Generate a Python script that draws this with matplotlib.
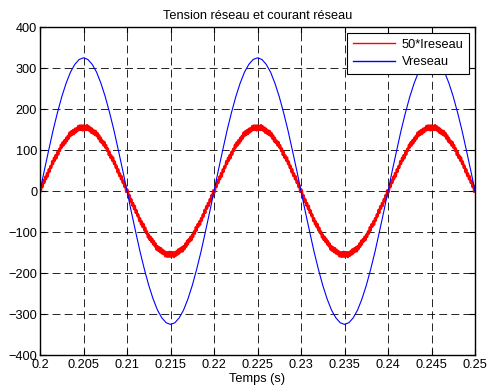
import numpy as np
import matplotlib
matplotlib.use("Agg")
import matplotlib.pyplot as plt

plt.rcParams['font.family'] = ['Liberation Sans', 'DejaVu Sans']

# Vreseau, sampled every 0.0005 s from 0.2 to 0.25 s
t_v = np.linspace(0.2, 0.25, 101)
vreseau = [
    0, 51, 100, 148, 191, 230, 263, 290, 309, 321, 325, 321, 309, 290, 263, 230, 191, 148, 100, 51,
    0, -51, -100, -148, -191, -230, -263, -290, -309, -321, -325, -321, -309, -290, -263, -230, -191, -148, -100, -51,
    0, 51, 100, 148, 191, 230, 263, 290, 309, 321, 325, 321, 309, 290, 263, 230, 191, 148, 100, 51,
    0, -51, -100, -148, -191, -230, -263, -290, -309, -321, -325, -321, -309, -290, -263, -230, -191, -148, -100, -51,
    0, 51, 100, 148, 191, 230, 263, 290, 309, 321, 325, 321, 309, 290, 263, 230, 191, 148, 100, 51,
    0,
]

# 50*Ireseau (with switching ripple), sampled every 0.0001 s
t_i = np.linspace(0.2, 0.25, 501)
ireseau50 = [
    0,
    -1, 14, 10, 26, 20, 35, 29, 44, 36, 53, 47, 61, 57, 73, 66, 81, 74, 88, 80, 96,
    89, 103, 98, 113, 106, 119, 111, 124, 116, 130, 122, 135, 128, 143, 134, 146, 137, 149, 139, 152,
    143, 154, 146, 159, 149, 160, 149, 160, 148, 160, 149, 159, 149, 161, 149, 158, 146, 155, 142, 152,
    140, 148, 137, 147, 134, 142, 128, 136, 121, 130, 117, 123, 111, 120, 106, 112, 98, 104, 88, 96,
    81, 87, 74, 82, 66, 72, 57, 62, 46, 53, 37, 43, 29, 36, 20, 25, 10, 15, -2, 5,
    1, -14, -10, -26, -20, -35, -29, -44, -36, -53, -47, -61, -57, -73, -66, -81, -74, -88, -80, -96,
    -89, -103, -98, -113, -106, -119, -111, -124, -116, -130, -122, -135, -128, -143, -134, -146, -137, -149, -139, -152,
    -143, -154, -146, -159, -149, -160, -149, -160, -148, -160, -149, -159, -149, -161, -149, -158, -146, -155, -142, -152,
    -140, -148, -137, -147, -134, -142, -128, -136, -121, -130, -117, -123, -111, -120, -106, -112, -98, -104, -88, -96,
    -81, -87, -74, -82, -66, -72, -57, -62, -46, -53, -37, -43, -29, -36, -20, -25, -10, -15, 2, -5,
    -1, 14, 10, 26, 20, 35, 29, 44, 36, 53, 47, 61, 57, 73, 66, 81, 74, 88, 80, 96,
    89, 103, 98, 113, 106, 119, 111, 124, 116, 130, 122, 135, 128, 143, 134, 146, 137, 149, 139, 152,
    143, 154, 146, 159, 149, 160, 149, 160, 148, 160, 149, 159, 149, 161, 149, 158, 146, 155, 142, 152,
    140, 148, 137, 147, 134, 142, 128, 136, 121, 130, 117, 123, 111, 120, 106, 112, 98, 104, 88, 96,
    81, 87, 74, 82, 66, 72, 57, 62, 46, 53, 37, 43, 29, 36, 20, 25, 10, 15, -2, 5,
    1, -14, -10, -26, -20, -35, -29, -44, -36, -53, -47, -61, -57, -73, -66, -81, -74, -88, -80, -96,
    -89, -103, -98, -113, -106, -119, -111, -124, -116, -130, -122, -135, -128, -143, -134, -146, -137, -149, -139, -152,
    -143, -154, -146, -159, -149, -160, -149, -160, -148, -160, -149, -159, -149, -161, -149, -158, -146, -155, -142, -152,
    -140, -148, -137, -147, -134, -142, -128, -136, -121, -130, -117, -123, -111, -120, -106, -112, -98, -104, -88, -96,
    -81, -87, -74, -82, -66, -72, -57, -62, -46, -53, -37, -43, -29, -36, -20, -25, -10, -15, 2, -5,
    -1, 14, 10, 26, 20, 35, 29, 44, 36, 53, 47, 61, 57, 73, 66, 81, 74, 88, 80, 96,
    89, 103, 98, 113, 106, 119, 111, 124, 116, 130, 122, 135, 128, 143, 134, 146, 137, 149, 139, 152,
    143, 154, 146, 159, 149, 160, 149, 160, 148, 160, 149, 159, 149, 161, 149, 158, 146, 155, 142, 152,
    140, 148, 137, 147, 134, 142, 128, 136, 121, 130, 117, 123, 111, 120, 106, 112, 98, 104, 88, 96,
    81, 87, 74, 82, 66, 72, 57, 62, 46, 53, 37, 43, 29, 36, 20, 25, 10, 15, -2, 0,
]

xticks = [0.2, 0.205, 0.21, 0.215, 0.22, 0.225, 0.23, 0.235, 0.24, 0.245, 0.25]
xtick_labels = ['0.2', '0.205', '0.21', '0.215', '0.22', '0.225', '0.23', '0.235', '0.24', '0.245', '0.25']
yticks = [-400, -300, -200, -100, 0, 100, 200, 300, 400]

fig = plt.figure(figsize=(4.91, 3.92), dpi=100)
ax = fig.add_axes([0.0815, 0.094, 0.886, 0.837])

ax.plot(t_i, ireseau50, color='red', lw=1.7, label='50*Ireseau')
ax.plot(t_v, vreseau, color='blue', lw=0.8, label='Vreseau')

ax.set_xlim(0.2, 0.25)
ax.set_ylim(-400, 400)
ax.set_xticks(xticks)
ax.set_xticklabels(xtick_labels)
ax.set_yticks(yticks)
ax.tick_params(direction='in', top=True, right=True, labelsize=9.2, length=4, width=0.8)
ax.tick_params(axis='x', pad=3)
ax.tick_params(axis='y', pad=2)
ax.grid(True, color='black', linestyle=(0, (9.5, 5)), linewidth=0.6)
for s in ax.spines.values():
    s.set_linewidth(1.0)

ax.set_title('Tension réseau et courant réseau', fontsize=9.2, pad=6)
ax.set_xlabel('Temps (s)', fontsize=9.2, labelpad=1)

leg = ax.legend(loc='upper right', fontsize=9.2, fancybox=False, framealpha=1,
                edgecolor='black', handlelength=3.3, borderaxespad=0.45,
                borderpad=0.45, labelspacing=0.45, handletextpad=0.5)
leg.get_frame().set_linewidth(0.8)
for h in leg.get_lines():
    h.set_linewidth(1.0)

fig.savefig('out.png', dpi=100)
